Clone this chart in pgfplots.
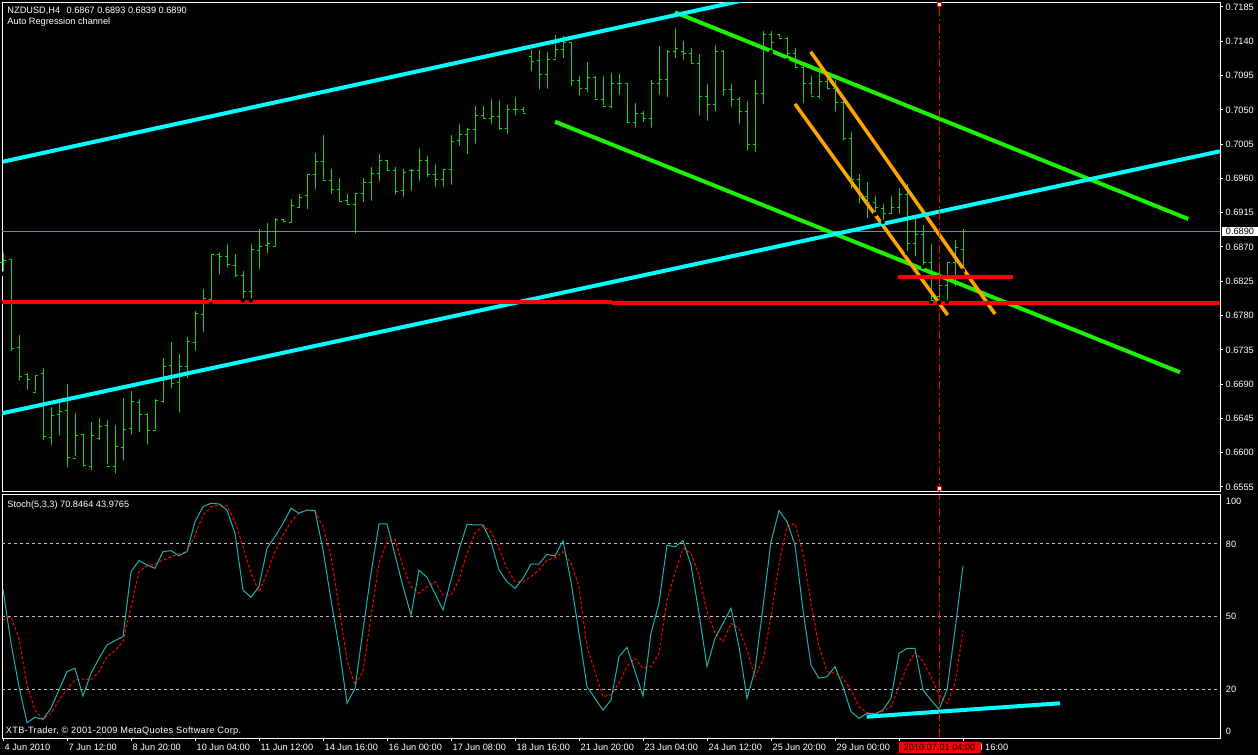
\documentclass[border=0pt]{standalone}
\usepackage{fontspec}
\setmainfont{Liberation Sans}
\usepackage{pgfplots}
\usepackage{pgfplotstable}
\pgfplotsset{compat=1.18}

\definecolor{barg}{RGB}{20,210,20}
\definecolor{chg}{RGB}{30,240,0}
\definecolor{aq}{RGB}{0,255,255}
\definecolor{org}{RGB}{255,165,0}
\definecolor{lsg}{RGB}{32,178,170}
\definecolor{pline}{RGB}{119,136,153}
\definecolor{lvl}{RGB}{192,192,192}

% H4 bars, index = bar number from 4 Jun 2010
\pgfplotstableread{
i O H L C
0 .6850 .6862 .6835 .6852
1 .6853 .6854 .6731 .6737
2 .6738 .6755 .6692 .6700
3 .6702 .6704 .6680 .6696
4 .6679 .6702 .6678 .6701
5 .6704 .6711 .6614 .6621
6 .6620 .6660 .6607 .6649
7 .6650 .6670 .6620 .6654
8 .6656 .6690 .6578 .6594
9 .6593 .6652 .6593 .6623
10 .6624 .6624 .6579 .6583
11 .6582 .6640 .6574 .6622
12 .6619 .6646 .6614 .6635
13 .6636 .6643 .6582 .6582
14 .6582 .6636 .6570 .6608
15 .6607 .6672 .6587 .6631
16 .6632 .6681 .6621 .6667
17 .6666 .6670 .6624 .6650
18 .6650 .6652 .6608 .6629
19 .6629 .6670 .6628 .6668
20 .6667 .6724 .6663 .6713
21 .6715 .6745 .6682 .6691
22 .6692 .6730 .6650 .6713
23 .6713 .6752 .6695 .6746
24 .6745 .6786 .6731 .6783
25 .6782 .6815 .6756 .6803
26 .6801 .6861 .6795 .6860
27 .6860 .6863 .6831 .6858
28 .6857 .6874 .6840 .6847
29 .6846 .6861 .6828 .6832
30 .6832 .6839 .6800 .6811
31 .6811 .6874 .6800 .6867
32 .6866 .6894 .6838 .6871
33 .6872 .6902 .6859 .6874
34 .6870 .6908 .6869 .6906
35 .6906 .6906 .6900 .6903
36 .6902 .6933 .6899 .6924
37 .6922 .6940 .6919 .6935
38 .6937 .6965 .6917 .6965
39 .6965 .6993 .6943 .6982
40 .6982 .7017 .6956 .6957
41 .6957 .6973 .6937 .6945
42 .6945 .6960 .6927 .6930
43 .6931 .6940 .6924 .6926
44 .6926 .6940 .6885 .6940
45 .6940 .6960 .6926 .6954
46 .6954 .6975 .6928 .6966
47 .6966 .6992 .6954 .6984
48 .6984 .6984 .6968 .6971
49 .6971 .6975 .6936 .6943
50 .6944 .6973 .6933 .6968
51 .6970 .6972 .6941 .6971
52 .6971 .7000 .6954 .6984
53 .6983 .6989 .6959 .6965
54 .6965 .6979 .6946 .6959
55 .6959 .6973 .6946 .6972
56 .6972 .7017 .6949 .7008
57 .7010 .7031 .7000 .7017
58 .7017 .7026 .6989 .7024
59 .7024 .7055 .7003 .7042
60 .7042 .7055 .7037 .7039
61 .7039 .7064 .7029 .7041
62 .7041 .7063 .7021 .7026
63 .7025 .7057 .7016 .7050
64 .7050 .7067 .7040 .7051
65 .7051 .7054 .7044 .7045
66 .7120 .7129 .7098 .7114
67 .7115 .7129 .7074 .7097
68 .7096 .7126 .7075 .7116
69 .7116 .7148 .7116 .7129
70 .7129 .7147 .7115 .7139
71 .7139 .7139 .7079 .7088
72 .7088 .7094 .7066 .7078
73 .7078 .7113 .7070 .7093
74 .7093 .7094 .7063 .7064
75 .7064 .7094 .7053 .7054
76 .7054 .7098 .7049 .7084
77 .7084 .7097 .7067 .7084
78 .7084 .7084 .7031 .7033
79 .7033 .7059 .7024 .7045
80 .7045 .7048 .7031 .7038
81 .7038 .7089 .7024 .7084
82 .7084 .7134 .7067 .7090
83 .7090 .7128 .7064 .7126
84 .7126 .7157 .7115 .7130
85 .7126 .7140 .7113 .7124
86 .7124 .7131 .7109 .7111
87 .7111 .7123 .7040 .7067
88 .7067 .7084 .7033 .7057
89 .7057 .7135 .7045 .7126
90 .7126 .7128 .7066 .7077
91 .7077 .7084 .7051 .7064
92 .7064 .7067 .7029 .7048
93 .7048 .7061 .6994 .7004
94 .7004 .7089 .6992 .7072
95 .7072 .7153 .7055 .7149
96 .7149 .7153 .7126 .7138
97 .7149 .7150 .7143 .7143
98 .7143 .7145 .7115 .7124
99 .7124 .7131 .7102 .7105
100 .7105 .7107 .7056 .7084
101 .7084 .7094 .7067 .7068
102 .7068 .7099 .7062 .7087
103 .7087 .7099 .7074 .7078
104 .7078 .7089 .7045 .7059
105 .7059 .7061 .7007 .7013
106 .7013 .7021 .6944 .6959
107 .6959 .6966 .6924 .6936
108 .6936 .6955 .6905 .6928
109 .6928 .6937 .6913 .6922
110 .6921 .6927 .6903 .6914
111 .6914 .6937 .6911 .6922
112 .6922 .6948 .6911 .6939
113 .6939 .6953 .6862 .6874
114 .6874 .6908 .6855 .6886
115 .6886 .6899 .6844 .6849
116 .6849 .6874 .6798 .6800
117 .6805 .6845 .6797 .6820
118 .6820 .6849 .6798 .6849
119 .6849 .6879 .6816 .6869
120 .6867 .6893 .6839 .6890
}\bars

% Stoch(5,3,3): K main, D signal
\pgfplotstableread{
i K D
0 61.3 48.6
1 39.0 49.9
2 21.1 41.0
3 6.3 21.8
4 8.5 11.5
5 7.7 7.7
6 12.2 10.2
7 19.8 15.6
8 27.3 20.0
9 28.7 23.9
10 17.3 24.3
11 26.6 23.9
12 32.8 27.3
13 38.3 33.5
14 40.1 35.9
15 41.7 39.6
16 68.4 54.0
17 73.0 68.4
18 71.2 70.8
19 69.8 71.6
20 76.7 73.2
21 77.1 74.6
22 75.0 75.7
23 76.7 76.7
24 89.0 83.5
25 95.2 91.8
26 96.6 95.2
27 96.3 95.9
28 93.8 95.5
29 84.2 89.0
30 60.9 78.7
31 57.9 67.8
32 62.3 60.2
33 78.1 67.8
34 82.9 76.7
35 88.3 83.5
36 94.5 89.0
37 92.5 92.7
38 93.8 93.8
39 93.6 93.4
40 77.4 87.0
41 56.8 74.6
42 37.6 54.0
43 14.3 32.1
44 20.4 21.8
45 44.4 27.3
46 67.8 49.9
47 88.1 71.9
48 88.1 80.8
49 75.3 81.8
50 62.3 70.5
51 50.6 62.3
52 69.1 59.5
53 66.1 62.3
54 59.5 64.3
55 52.7 58.8
56 65.0 58.8
57 77.4 65.0
58 87.9 76.0
59 87.7 84.2
60 87.7 87.2
61 80.8 84.9
62 69.1 78.1
63 64.3 69.8
64 61.6 64.3
65 65.7 64.3
66 71.6 66.4
67 71.6 69.1
68 75.6 73.2
69 74.9 74.2
70 81.2 76.7
71 64.3 71.9
72 43.1 62.3
73 21.1 37.6
74 16.3 27.3
75 11.5 17.0
76 15.6 17.7
77 33.5 22.5
78 37.3 29.4
79 27.3 32.8
80 17.3 28.7
81 43.1 29.4
82 55.4 34.8
83 79.4 56.8
84 78.7 67.8
85 81.2 78.1
86 71.2 76.0
87 51.3 67.1
88 29.4 52.0
89 41.0 43.1
90 47.2 39.6
91 53.4 47.2
92 37.6 45.1
93 16.3 36.2
94 28.0 25.2
95 54.0 32.1
96 80.8 49.9
97 93.6 71.9
98 89.0 87.0
99 79.4 88.3
100 52.7 76.0
101 30.0 55.4
102 24.6 37.6
103 25.2 27.3
104 29.4 26.6
105 21.1 24.6
106 10.8 19.8
107 8.1 12.9
108 10.2 10.4
109 9.9 10.2
110 11.5 10.8
111 16.3 12.9
112 34.8 21.1
113 36.9 29.4
114 36.9 35.3
115 19.8 31.4
116 15.6 25.2
117 11.8 17.7
118 19.8 14.3
119 44.4 22.5
120 70.8 44.0
}\stoch

\pgfdeclareplotmark{otick}{\pgfpathmoveto{\pgfpoint{-2.5bp}{0pt}}\pgfpathlineto{\pgfpoint{0.5bp}{0pt}}\pgfusepathqstroke}
\pgfdeclareplotmark{ctick}{\pgfpathmoveto{\pgfpoint{-0.5bp}{0pt}}\pgfpathlineto{\pgfpoint{2.5bp}{0pt}}\pgfusepathqstroke}

\newcommand{\mtfont}{\fontsize{9.2bp}{11bp}\selectfont}

\begin{document}
\begin{tikzpicture}[font=\mtfont]
\path[use as bounding box, fill=black] (0,0) rectangle (1258bp,755bp);

% price panel
\begin{axis}[
  at={(2bp,263bp)}, anchor=south west, scale only axis,
  width=1218bp, height=489bp,
  xmin=-0.125, xmax=152.125, ymin=0.654844, ymax=0.719025,
  axis line style={white, line width=1bp},
  xtick=\empty,
  ytick={0.6555,0.66,0.6645,0.669,0.6735,0.678,0.6825,0.687,0.6915,0.696,0.7005,0.705,0.7095,0.714,0.7185},
  scaled y ticks=false,
  ytick pos=right, yticklabel pos=right,
  tick align=outside, major tick length=3bp,
  tick style={white, line width=1bp},
  yticklabel style={anchor=west, inner sep=0pt, xshift=2.5bp, text=white, font=\mtfont,
    /pgf/number format/.cd, fixed, fixed zerofill, precision=4, assume math mode=true},
]
\addplot[pline, line width=1bp] coordinates {(-0.125,0.6890) (152.125,0.6890)};
% bars: high-low, open, close
\addplot[only marks, mark=none, error bars/.cd, y dir=plus, y explicit,
  error bar style={barg, line width=1bp}, error mark=none]
  table[x=i, y=L, y error expr=\thisrow{H}-\thisrow{L}] {\bars};
\addplot[barg, line width=1bp, only marks, mark=otick] table[x=i, y=O] {\bars};
\addplot[barg, line width=1bp, only marks, mark=ctick] table[x=i, y=C] {\bars};
% falling channel
\addplot[chg, line width=4bp] coordinates {(84,0.717805) (148.16,0.690675)};
\addplot[chg, line width=4bp] coordinates {(69,0.703446) (147.125,0.670555)};
% orange channel
\addplot[org, line width=3.5bp] coordinates {(100.96,0.712633) (124,0.678206)};
\addplot[org, line width=3.5bp] coordinates {(99,0.705769) (118.09,0.678075)};
% auto regression channel
\addplot[aq, line width=4bp] coordinates {(0,0.698196) (152,0.73299)};
\addplot[aq, line width=4bp] coordinates {(-0.125,0.665173) (152.125,0.699567)};
% horizontal levels
\addplot[red, line width=4bp] coordinates {(-0.125,0.679781) (76.1,0.679781)};
\addplot[red, line width=4bp] coordinates {(76.1,0.679650) (152.125,0.679650)};
\addplot[red, line width=4bp] coordinates {(111.9,0.683102) (126.2,0.683102)};
% selected vertical line
\addplot[red, line width=1bp, dash pattern=on 9bp off 3bp on 2bp off 3bp] coordinates {(117,0.654844) (117,0.719025)};
\addplot[only marks, mark=square*, mark size=2bp, mark options={fill=white, draw=red, line width=1bp}]
  coordinates {(117,0.718763) (117,0.655238)};
\end{axis}

% stochastic panel
\begin{axis}[
  at={(2bp,17bp)}, anchor=south west, scale only axis,
  width=1218bp, height=243bp,
  xmin=-0.125, xmax=152.125, ymin=0, ymax=100,
  axis line style={white, line width=1bp},
  xtick={0,8,...,120}, xticklabels={}, xtick pos=bottom,
  ytick=\empty,
  tick align=outside, major tick length=3bp,
  tick style={white, line width=1bp},
]
\addplot[lvl, line width=1bp, dash pattern=on 3bp off 3bp] coordinates {(-0.125,80) (152.125,80)};
\addplot[lvl, line width=1bp, dash pattern=on 3bp off 3bp] coordinates {(-0.125,50) (152.125,50)};
\addplot[lvl, line width=1bp, dash pattern=on 3bp off 3bp] coordinates {(-0.125,20) (152.125,20)};
\addplot[red, line width=1bp, dash pattern=on 3bp off 2bp] table[x=i, y=D] {\stoch};
\addplot[lsg, line width=1bp] table[x=i, y=K] {\stoch};
\addplot[aq, line width=4bp] coordinates {(107.96,8.77) (132.1,14.28)};
\addplot[red, line width=1bp, dash pattern=on 9bp off 3bp on 2bp off 3bp] coordinates {(117,0) (117,100)};
\end{axis}

% chart texts
\node[anchor=base west, inner sep=0pt, text=white] at (7.3bp,741bp) {NZDUSD,H4\hspace{6.5bp}0.6867 0.6893 0.6839 0.6890};
\node[anchor=base west, inner sep=0pt, text=white] at (7.3bp,730.7bp) {Auto Regression channel};
\node[anchor=base west, inner sep=0pt, text=white] at (7.3bp,247.3bp) {Stoch(5,3,3) 70.8464 43.9765};
\node[anchor=base west, inner sep=0pt, text=white] at (5.7bp,21.7bp) {\addfontfeature{LetterSpace=3.3}XTB-Trader, © 2001-2009 MetaQuotes Software Corp.};

% current price marker
\fill[white] (1222bp,519.3bp) rectangle (1258bp,527.7bp);
\node[anchor=west, inner sep=0pt, text=black] at (1225.7bp,523.5bp) {0.6890};

% stochastic scale
\foreach \v/\y in {100/254, 80/211, 50/139, 20/66, 0/24}
  \node[anchor=west, inner sep=0pt, text=white] at (1225.7bp,\y bp) {\v};

% time scale
\foreach \x/\t in {3/4 Jun 2010, 67/7 Jun 12:00, 131/8 Jun 20:00, 195/10 Jun 04:00,
  259/11 Jun 12:00, 323/14 Jun 16:00, 387/16 Jun 00:00, 451/17 Jun 08:00,
  515/18 Jun 16:00, 579/21 Jun 20:00, 643/23 Jun 04:00, 707/24 Jun 12:00,
  771/25 Jun 20:00, 835/29 Jun 00:00}
  \node[anchor=base west, inner sep=0pt, text=white] at (\x bp+1.5bp,4.3bp) {\t};
\node[anchor=base west, inner sep=0pt, text=white] at (963bp,4.3bp) {1 Jul 16:00};
\fill[red] (899bp,1.7bp) rectangle (980.5bp,12.7bp);
\node[anchor=base, inner sep=0pt, text=black] at (939.5bp,4.3bp) {2010.07.01 04:00};
\end{tikzpicture}
\end{document}
